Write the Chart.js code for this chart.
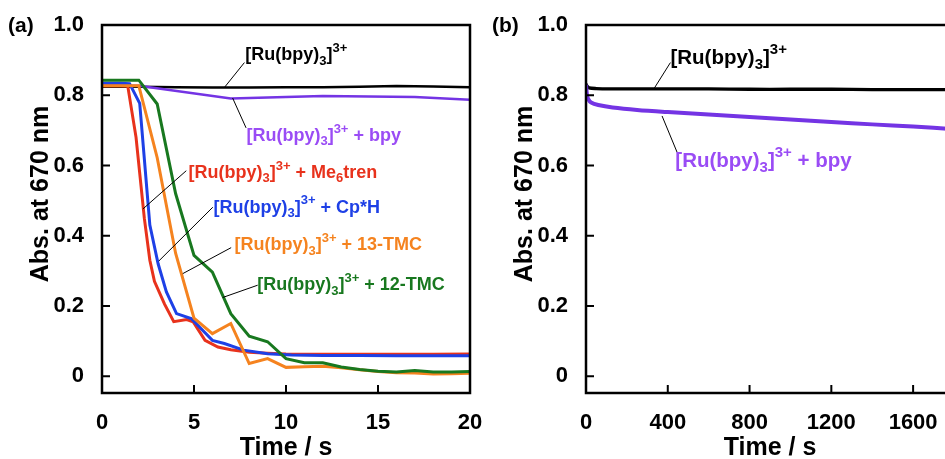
<!DOCTYPE html>
<html>
<head>
<meta charset="utf-8">
<title>Abs. at 670 nm</title>
<script src="https://cdn.jsdelivr.net/npm/chart.js@4.4.1/dist/chart.umd.min.js"></script>
<style>
  html, body { margin: 0; padding: 0; background: #fff; overflow: hidden; }
  body { width: 945px; height: 459px; position: relative; }
  canvas { position: absolute; top: 0; }
  #chartA { left: 0; }
  #chartB { left: 484px; }
</style>
</head>
<body>
<canvas id="chartA" width="496" height="462"></canvas>
<canvas id="chartB" width="480" height="462"></canvas>
<script>
const FONT = '"Liberation Sans", Arial, Helvetica, sans-serif';

// (a) first 20 s
const timeBlackA = [0, 2, 4, 6, 8, 10, 12, 14, 16, 18, 20];
const absBlackA = [0.824, 0.824, 0.823, 0.822, 0.822, 0.823, 0.823, 0.824, 0.826, 0.825, 0.823];

const timeBpyA = [0, 2, 7, 12, 17, 20];
const absBpyA = [0.828, 0.827, 0.791, 0.798, 0.795, 0.787];

const timeMe6trenA = [0, 1, 1.4, 1.85, 2.3, 2.6, 2.85, 3.4, 3.9, 4.6, 4.95, 5.6, 6.3, 7, 8, 9, 10, 12, 14, 16, 18, 20];
const absMe6trenA = [0.827, 0.827, 0.826, 0.68, 0.45, 0.33, 0.27, 0.205, 0.155, 0.161, 0.155, 0.102, 0.083, 0.075, 0.068, 0.065, 0.063, 0.062, 0.062, 0.062, 0.062, 0.063];

const timeCpHA = [0, 1, 1.5, 2.05, 2.6, 3.05, 3.5, 4.05, 4.85, 6, 6.65, 7.7, 9, 10.3, 12, 14, 16, 18, 20];
const absCpHA = [0.834, 0.834, 0.833, 0.777, 0.43, 0.32, 0.24, 0.178, 0.164, 0.102, 0.093, 0.074, 0.064, 0.06, 0.059, 0.059, 0.058, 0.058, 0.058];

const timeTmc13A = [0, 1, 2, 3, 4, 5, 6, 7, 8, 9, 10, 11, 12, 13, 14, 15, 16, 17, 18, 19, 20];
const absTmc13A = [0.827, 0.827, 0.827, 0.622, 0.35, 0.165, 0.121, 0.15, 0.036, 0.05, 0.025, 0.027, 0.028, 0.024, 0.018, 0.013, 0.01, 0.009, 0.006, 0.007, 0.008];

const timeTmc12A = [0, 1, 2, 3, 4, 5, 6, 7, 8, 9, 10, 11, 12, 13, 14, 15, 16, 17, 18, 19, 20];
const absTmc12A = [0.843, 0.843, 0.843, 0.775, 0.52, 0.344, 0.296, 0.178, 0.114, 0.098, 0.05, 0.038, 0.038, 0.026, 0.019, 0.014, 0.012, 0.016, 0.012, 0.012, 0.013];

// (b) long time scale
const timeBlackB = [0, 5, 15, 50, 120, 200, 400, 600, 800, 1000, 1200, 1400, 1600, 1800];
const absBlackB = [0.832, 0.826, 0.821, 0.819, 0.818, 0.818, 0.818, 0.818, 0.817, 0.817, 0.817, 0.816, 0.816, 0.816];

const timeBpyB = [0, 5, 12, 25, 60, 130, 250, 400, 600, 800, 1000, 1200, 1400, 1600, 1800];
const absBpyB = [0.83, 0.8, 0.788, 0.779, 0.772, 0.765, 0.758, 0.752, 0.745, 0.738, 0.731, 0.724, 0.717, 0.711, 0.703];

const yTicks = [0, 0.2, 0.4, 0.6, 0.8, 1.0];
const xTicksA = [0, 5, 10, 15, 20];
const xTicksB = [0, 400, 800, 1200, 1600];

const BLACK = '#000000';
const PURPLE = '#7434e4';
const PURPLE_TEXT = '#9a4cf5';
const RED = '#e8321c';
const BLUE = '#1e40e6';
const ORANGE = '#f5831f';
const GREEN = '#18781f';

const pts = (xs, ys) => xs.map((x, i) => ({ x: x, y: ys[i] }));

const RU = ['[Ru(bpy)', 0, '3', -1, ']', 0, '3+', 1];

// inward tick marks plus the closed frame
const framePlugin = {
    id: 'frame',
    afterDatasetsDraw(chart) {
        const { ctx, chartArea: a, scales } = chart;
        ctx.save();
        ctx.strokeStyle = '#000';
        ctx.lineWidth = 2;
        ctx.beginPath();
        scales.x.ticks.forEach(t => {
            const px = scales.x.getPixelForValue(t.value);
            ctx.moveTo(px, a.bottom);
            ctx.lineTo(px, a.bottom - 8);
        });
        scales.y.ticks.forEach(t => {
            const py = scales.y.getPixelForValue(t.value);
            ctx.moveTo(a.left, py);
            ctx.lineTo(a.left + 8, py);
        });
        ctx.stroke();
        ctx.lineWidth = 2.5;
        ctx.strokeRect(a.left, a.top, a.right - a.left, a.bottom - a.top);
        ctx.restore();
    }
};

function drawChem(ctx, x, y, parts, color, size) {
    ctx.fillStyle = color;
    ctx.textBaseline = 'alphabetic';
    ctx.textAlign = 'left';
    const small = Math.round(size * 0.72);
    let cx = x;
    for (let i = 0; i < parts.length; i += 2) {
        const text = parts[i];
        const level = parts[i + 1];
        ctx.font = level === 0 ? `bold ${size}px ${FONT}` : `bold ${small}px ${FONT}`;
        const dy = level === -1 ? size * 0.25 : level === 1 ? -size * 0.45 : 0;
        ctx.fillText(text, cx, y + dy);
        cx += ctx.measureText(text).width;
    }
}

// curve labels with leader lines, panel letter and the y title
const labelPlugin = {
    id: 'chemLabels',
    afterDraw(chart, args, opts) {
        const { ctx, scales } = chart;
        const X = v => scales.x.getPixelForValue(v);
        const Y = v => scales.y.getPixelForValue(v);
        ctx.save();
        opts.items.forEach(it => {
            ctx.strokeStyle = '#000';
            ctx.lineWidth = 1;
            ctx.beginPath();
            ctx.moveTo(X(it.lead[0]), Y(it.lead[1]));
            ctx.lineTo(X(it.lead[2]), Y(it.lead[3]));
            ctx.stroke();
            drawChem(ctx, X(it.x), Y(it.y), it.parts, it.color, opts.size);
        });

        ctx.fillStyle = '#000';
        ctx.font = `bold 21px ${FONT}`;
        ctx.textAlign = 'left';
        ctx.textBaseline = 'alphabetic';
        ctx.fillText(opts.tag, 8, 32);

        ctx.translate(48, 194);
        ctx.rotate(-Math.PI / 2);
        ctx.font = `bold 25px ${FONT}`;
        ctx.textAlign = 'center';
        ctx.fillText('Abs. at 670 nm', 0, 0);
        ctx.restore();
    }
};

function makePanel(id, datasets, xMax, xTicks, tag, items, labelSize, padRight) {
    return new Chart(document.getElementById(id), {
        type: 'line',
        data: { datasets: datasets },
        plugins: [framePlugin, labelPlugin],
        options: {
            responsive: false,
            animation: false,
            devicePixelRatio: 1,
            events: [],
            layout: { padding: { top: 25, right: padRight, left: 0, bottom: 0 } },
            elements: {
                point: { radius: 0 },
                line: { tension: 0, fill: false }
            },
            plugins: {
                legend: { display: false },
                tooltip: { enabled: false },
                chemLabels: { tag: tag, items: items, size: labelSize }
            },
            scales: {
                x: {
                    type: 'linear',
                    min: 0,
                    max: xMax,
                    afterBuildTicks: s => { s.ticks = xTicks.map(v => ({ value: v })); },
                    afterFit: s => {
                        s.height = 69;
                        s.paddingLeft = 0;
                        s.paddingRight = 0;
                    },
                    grid: { display: false },
                    border: { display: false },
                    ticks: {
                        color: '#000',
                        padding: 9,
                        maxRotation: 0,
                        autoSkip: false,
                        font: { family: FONT, size: 22, weight: 'bold' },
                        callback: v => String(v)
                    },
                    title: {
                        display: true,
                        text: 'Time / s',
                        color: '#000',
                        padding: { top: 0, bottom: 1.5 },
                        font: { family: FONT, size: 25, weight: 'bold', lineHeight: 1 }
                    }
                },
                y: {
                    min: -0.048,
                    max: 1.0,
                    afterBuildTicks: s => { s.ticks = yTicks.map(v => ({ value: v })); },
                    afterFit: s => {
                        s.width = 102;
                        s.paddingTop = 0;
                        s.paddingBottom = 0;
                    },
                    grid: { display: false },
                    border: { display: false },
                    ticks: {
                        color: '#000',
                        padding: 10,
                        font: { family: FONT, size: 22, weight: 'bold' },
                        callback: v => (v === 0 ? '0' : v.toFixed(1))
                    }
                }
            }
        }
    });
}

makePanel('chartA', [
    { data: pts(timeTmc12A, absTmc12A), borderColor: GREEN, borderWidth: 3 },
    { data: pts(timeTmc13A, absTmc13A), borderColor: ORANGE, borderWidth: 3 },
    { data: pts(timeCpHA, absCpHA), borderColor: BLUE, borderWidth: 3 },
    { data: pts(timeMe6trenA, absMe6trenA), borderColor: RED, borderWidth: 3 },
    { data: pts(timeBpyA, absBpyA), borderColor: PURPLE, borderWidth: 2.5 },
    { data: pts(timeBlackA, absBlackA), borderColor: BLACK, borderWidth: 2.5 }
], 20, xTicksA, '(a)', [
    { x: 7.79, y: 0.90, color: BLACK, parts: RU, lead: [7.74, 0.893, 6.65, 0.822] },
    { x: 7.85, y: 0.67, color: PURPLE_TEXT, parts: RU.concat([' + bpy', 0]), lead: [7.10, 0.792, 7.83, 0.707] },
    { x: 4.70, y: 0.565, color: RED, parts: RU.concat([' + Me', 0, '6', -1, 'tren', 0]), lead: [4.58, 0.585, 2.22, 0.476] },
    { x: 6.06, y: 0.466, color: BLUE, parts: RU.concat([' + Cp*H', 0]), lead: [6.02, 0.481, 3.09, 0.328] },
    { x: 7.20, y: 0.358, color: ORANGE, parts: RU.concat([' + 13-TMC', 0]), lead: [7.02, 0.366, 4.39, 0.292] },
    { x: 8.44, y: 0.244, color: GREEN, parts: RU.concat([' + 12-TMC', 0]), lead: [8.46, 0.259, 6.56, 0.224] }
], 18, 26);

makePanel('chartB', [
    { data: pts(timeBpyB, absBpyB), borderColor: PURPLE, borderWidth: 4, tension: 0.3 },
    { data: pts(timeBlackB, absBlackB), borderColor: BLACK, borderWidth: 3.3, tension: 0.3 }
], 1800, xTicksB, '(b)', [
    { x: 413, y: 0.89, color: BLACK, parts: RU, lead: [413, 0.893, 334, 0.820] },
    { x: 437, y: 0.597, color: PURPLE_TEXT, parts: RU.concat([' + bpy', 0]), lead: [372, 0.741, 446, 0.637] }
], 20.5, 10);
</script>
</body>
</html>
